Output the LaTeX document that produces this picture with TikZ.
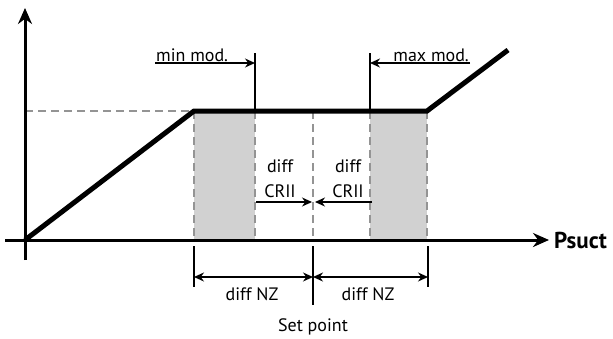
\documentclass[tikz,border=0pt]{standalone}
\usepackage{fontspec}
\setmainfont{PT Sans}
\usetikzlibrary{arrows.meta,positioning,calc}
\tikzset{
    axis/.style={
        line width=3pt,
        -{Stealth[length=16pt,width=14pt]}
    },
    curve/.style={
        line width=5pt,
        line join=miter
    },
    guide/.style={
        draw=black!42,
        line width=2.5pt,
        dash pattern=on 8pt off 5pt
    },
    band/.style={
        fill=black!18,
        draw=none
    },
    tick/.style={
        line width=1.3pt
    },
    dim/.style={
        line width=1.3pt,
        -{Stealth[length=10pt,width=9pt]}
    },
    dimboth/.style={
        line width=1.3pt,
        {Stealth[length=10pt,width=9pt]}-{Stealth[length=10pt,width=9pt]}
    },
    lbl/.style={
        font=\fontsize{18}{25}\selectfont,
        inner sep=1pt,
        align=center
    }
}
\begin{document}
\begin{tikzpicture}[x=1pt,y=-1pt]
\useasboundingbox (0,0) rectangle (613,338);

\coordinate (O) at (25,240);
\coordinate (ytop) at (25,8);
\coordinate (ybot) at (25,260);
\coordinate (xl) at (5,240);
\coordinate (xr) at (549,240);
\coordinate (knee1) at (194,111);
\coordinate (knee2) at (427,111);
\coordinate (tail) at (508,50);
\coordinate (yref) at (25,111);

\fill[band] (194,111) rectangle (255,240);
\fill[band] (370,111) rectangle (427,240);
\foreach \x in {194,255,313,370,427}
    \draw[guide] (\x,111) -- (\x,240);
\draw[guide] (yref) -- (knee1);

\draw[axis] (ybot) -- (ytop);
\draw[axis] (xl) -- (xr);
\node[font=\bfseries\fontsize{23}{24}\selectfont, anchor=west, inner sep=2pt] (psuct) at (552,240) {Psuct};

\draw[curve] (O) -- (knee1) -- (knee2) -- (tail);

\coordinate (minA) at (155,63);
\coordinate (minB) at (255,63);
\draw[tick] (255,53) -- (255,111);
\draw[dim] (minA) -- (minB);
\node[lbl, anchor=south west] (minmod) at (minA) {min mod.};

\coordinate (maxA) at (470,63);
\coordinate (maxB) at (370,63);
\draw[tick] (370,53) -- (370,111);
\draw[dim] (maxA) -- (maxB);
\node[lbl, anchor=south east] (maxmod) at (maxA) {max mod.};

\coordinate (crA) at (256,202);
\coordinate (crB) at (312,202);
\coordinate (crC) at (372,202);
\coordinate (crD) at (315,202);
\draw[dim] (crA) -- (crB);
\draw[dim] (crC) -- (crD);
\node[lbl, anchor=south] (crii1) at (280,199) {diff\\CRII};
\node[lbl, anchor=south] (crii2) at (348,199) {diff\\CRII};

\coordinate (nzL) at (194,277);
\coordinate (nzM) at (313,277);
\coordinate (nzR) at (428,277);
\draw[tick] (194,246) -- (194,287);
\draw[tick] (313,246) -- (313,305);
\draw[tick] (428,246) -- (428,287);
\draw[dimboth] (nzL) -- (nzM);
\draw[dimboth] (nzM) -- (nzR);
\node[lbl, anchor=base] (nz1) at (252,300) {diff NZ};
\node[lbl, anchor=base] (nz2) at (368,300) {diff NZ};
\node[lbl, anchor=base] (setpt) at (313,331) {Set point};

\end{tikzpicture}
\end{document}
